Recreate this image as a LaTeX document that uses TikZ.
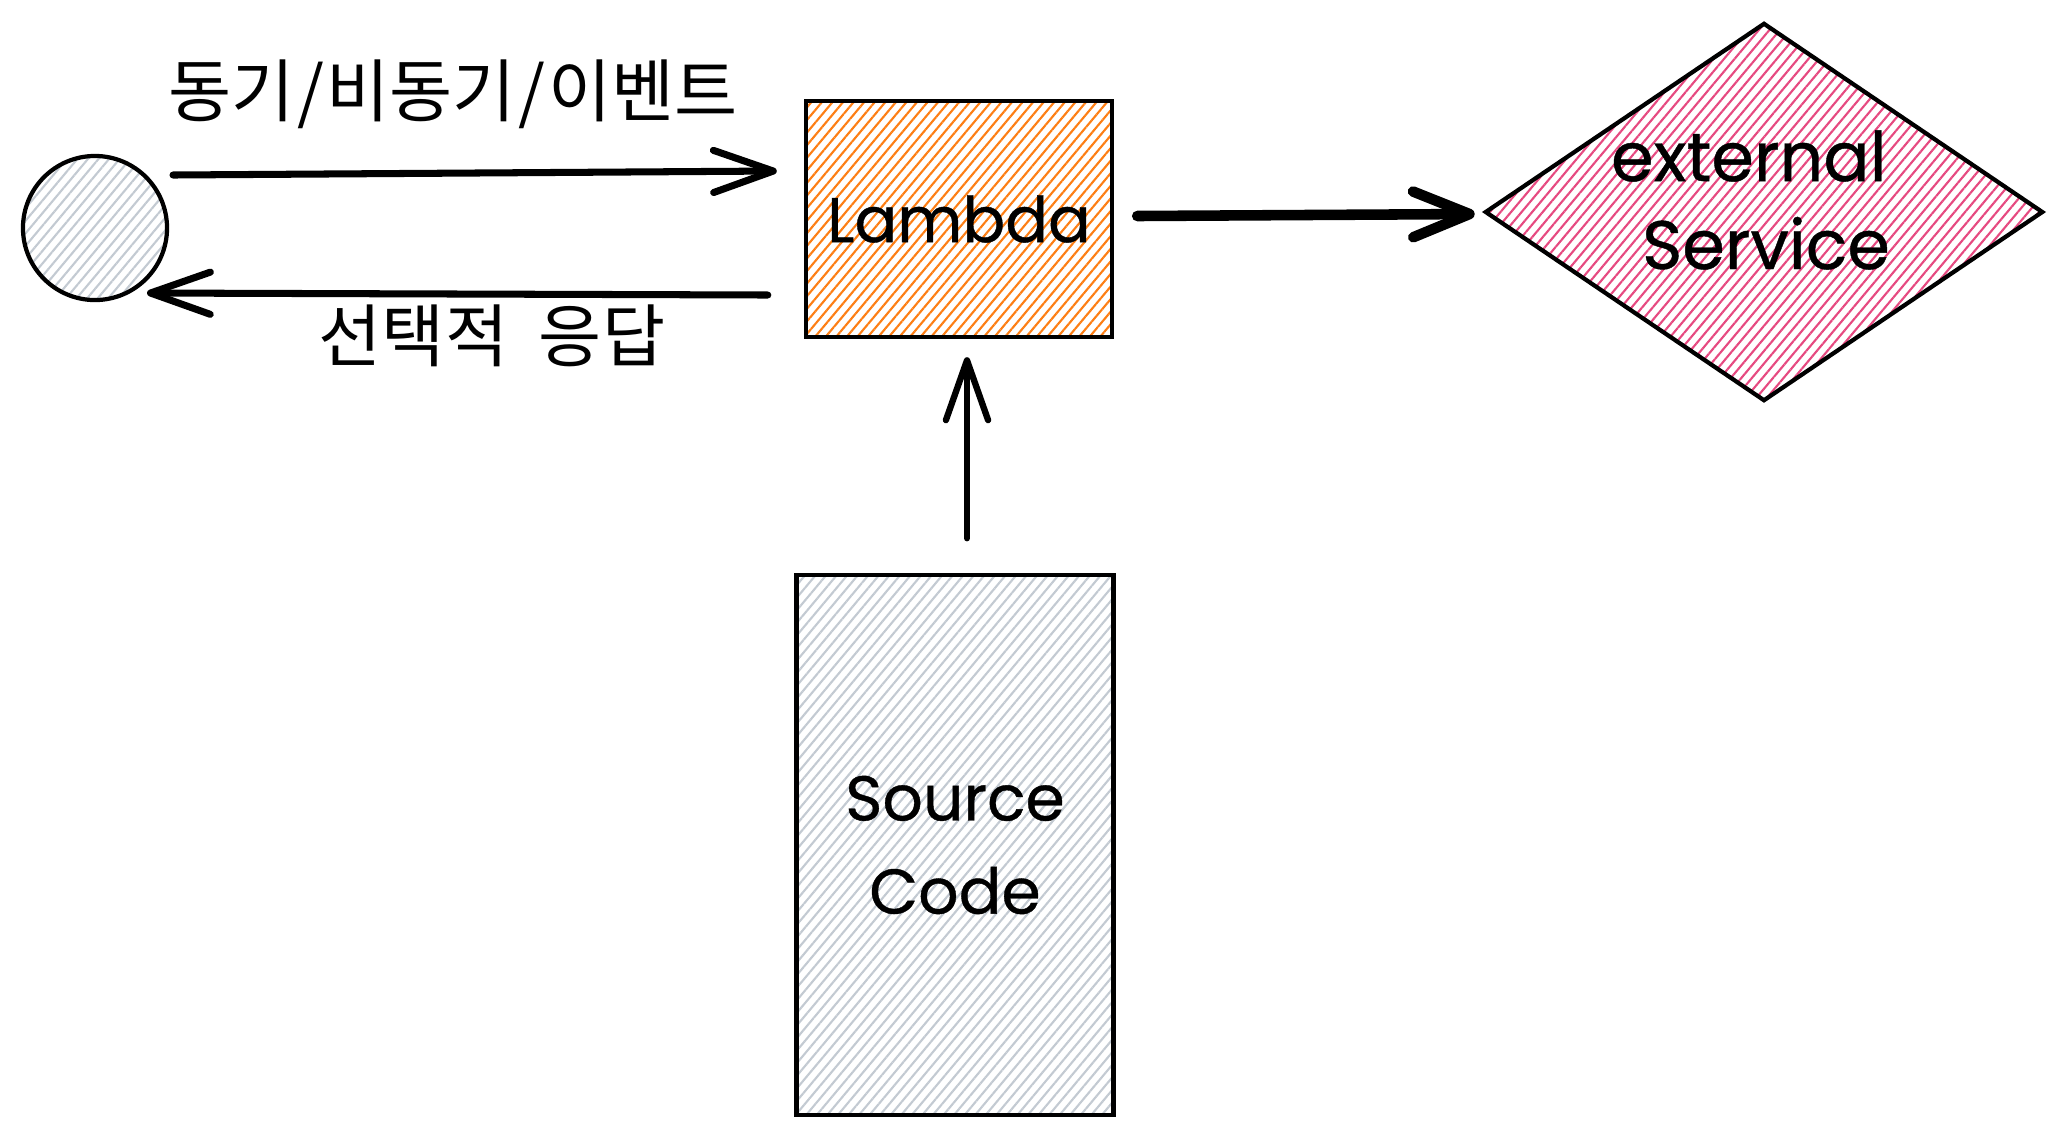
\documentclass[tikz,border=0pt]{standalone}
\usepackage{fontspec}
\setmainfont{Poppins}
\newfontfamily\handfont{Poppins}[FakeBold=0.6]
\newfontfamily\krfont{Noto Sans CJK KR}
\usetikzlibrary{arrows.meta,shapes.geometric,patterns.meta}
\definecolor{hatchorange}{HTML}{FD7E14}
\definecolor{hatchpink}{HTML}{E64980}
\definecolor{hatchgray}{HTML}{C3CAD2}
\begin{document}
\begin{tikzpicture}[x=0.01cm,y=-0.01cm,
  outline/.style={draw=black, line width=1.2pt},
  hatch/.style={pattern={Lines[angle=50,distance=2.3pt,line width=0.6pt]}, pattern color=#1},
  handtext/.style={font=\handfont\fontsize{18}{26}\selectfont, align=center, text=black},
  krlabel/.style={font=\krfont\fontsize{19.5}{24}\selectfont, text=black, inner sep=0pt},
  conn/.style={line width=2pt, line cap=round, -{Straight Barb[length=17pt,width=12pt,round]}},
  boldconn/.style={line width=3pt, line cap=round, -{Straight Barb[length=16pt,width=13pt,round]}}]
\useasboundingbox (0,0) rectangle (2063,1132);

% nodes
\node[circle, outline, hatch=hatchgray, minimum size=1.44cm, inner sep=0pt] (client) at (95,228) {};
\node[rectangle, outline, hatch=hatchorange, minimum width=3.06cm, minimum height=2.36cm, inner sep=0pt, handtext] (lambda) at (959,219) {Lambda};
\node[diamond, outline, hatch=hatchpink, minimum width=5.58cm, minimum height=3.78cm, inner sep=0pt] (ext) at (1764,212) {};
\node[handtext, font=\handfont\fontsize{19.5}{25}\selectfont, inner sep=0pt] (exttext) at (1766,200) {external\hspace*{0.5em}\\Service};
\node[rectangle, outline, hatch=hatchgray, minimum width=3.17cm, minimum height=5.39cm, inner sep=0pt, handtext, font=\handfont\fontsize{18}{26.5}\selectfont] (source) at (955,845) {Source\\Code};

% labels
\node[krlabel] (lblcall) at (453,94) {동기\hspace{0.04em}/\hspace{0.04em}비동기\hspace{0.04em}/\hspace{0.04em}이벤트};
\node[krlabel] (lblresp) at (492,336) {선택적\hspace{0.45em}응답};

% connectors
\draw[conn] ([shift={(78,-53)}]client.center) -- ([shift={(-27,-48)}]lambda.west);
\draw[conn] ([shift={(-36,76)}]lambda.west) -- ([shift={(52,65)}]client.center);
\draw[boldconn] ([shift={(23,-3)}]lambda.east) -- ([shift={(-8,2)}]ext.west);
\draw[conn, line width=1.8pt] ([shift={(12,-35)}]source.north) -- ([shift={(8,18)}]lambda.south);
\end{tikzpicture}
\end{document}
